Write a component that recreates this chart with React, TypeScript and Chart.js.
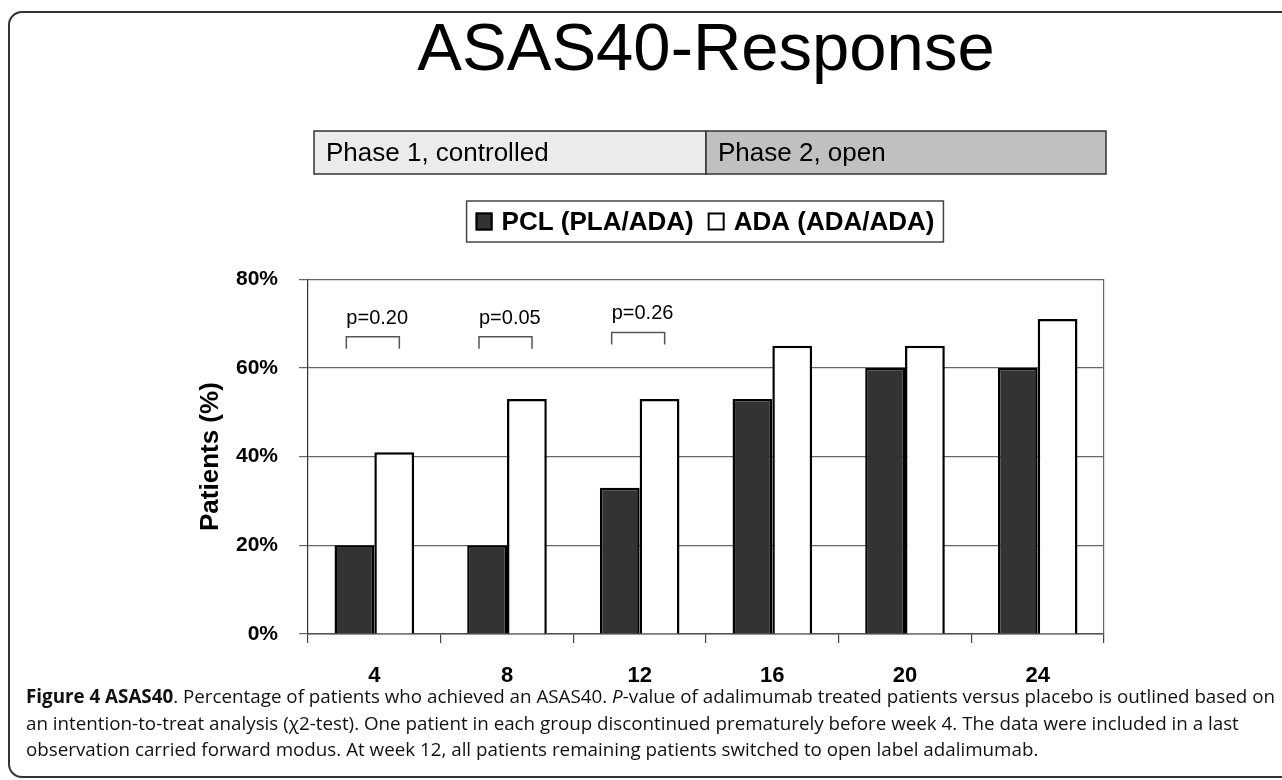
import { useEffect, useRef } from 'react';
import { Chart, registerables } from 'chart.js';

Chart.register(...registerables);

// ---------- data ----------
const weeks = ['4', '8', '12', '16', '20', '24'];
const pclValues = [20, 20, 33, 53, 60, 60];
const adaValues = [41, 53, 53, 65, 65, 71];
const yTickValues = [0, 20, 40, 60, 80];
const seriesNames = ['PCL (PLA/ADA)', 'ADA (ADA/ADA)'];
const pLabels = ['p=0.20', 'p=0.05', 'p=0.26'];
const pBracketLevel = [67, 67, 68];
const phaseLabels = ['Phase 1, controlled', 'Phase 2, open'];
const phaseLastIndex = [2, 5];
const titleText = 'ASAS40-Response';
const yAxisTitle = 'Patients (%)';

const FONT = "'Liberation Sans', Arial, Helvetica, sans-serif";
const phaseFills = ['#ebebeb', '#c0c0c0'];

const annotationPlugin = {
  id: 'asasAnnotations',
  afterDraw(chart: any) {
    const { ctx, chartArea, scales } = chart;
    const x = scales.x;
    const y = scales.y;
    ctx.save();

    // phase boxes
    const boxTop = 131;
    const boxH = 43;
    const edges: number[] = [chartArea.left + 6];
    phaseLastIndex.forEach((last) => {
      if (last >= weeks.length - 1) edges.push(chartArea.right + 2);
      else edges.push((x.getPixelForValue(last) + x.getPixelForValue(last + 1)) / 2);
    });
    ctx.font = `normal 26px ${FONT}`;
    ctx.textBaseline = 'middle';
    ctx.textAlign = 'left';
    phaseLabels.forEach((lab, i) => {
      const l = edges[i];
      const r = edges[i + 1];
      ctx.fillStyle = phaseFills[i];
      ctx.fillRect(l, boxTop, r - l, boxH);
      ctx.lineWidth = 1.5;
      ctx.strokeStyle = '#333';
      ctx.strokeRect(l, boxTop, r - l, boxH);
      ctx.fillStyle = '#000';
      ctx.fillText(lab, l + 12, boxTop + boxH / 2 + 1);
    });

    // legend
    const ds = chart.data.datasets;
    ctx.font = `bold 26px ${FONT}`;
    const widths = ds.map((d: any) => ctx.measureText(d.label).width);
    const pad = 9, sw = 17, sh = 18, gap = 9, itemGap = 14;
    let total = pad * 2;
    widths.forEach((w: number, i: number) => {
      total += sw + gap + w + (i < widths.length - 1 ? itemGap : 0);
    });
    const legTop = 201, legH = 41;
    const cx = (chartArea.left + chartArea.right) / 2 - 1;
    const legLeft = cx - total / 2;
    ctx.fillStyle = '#fff';
    ctx.fillRect(legLeft, legTop, total, legH);
    ctx.lineWidth = 1.5;
    ctx.strokeStyle = '#444';
    ctx.strokeRect(legLeft, legTop, total, legH);
    let px = legLeft + pad;
    const midY = legTop + legH / 2;
    ds.forEach((d: any, i: number) => {
      ctx.fillStyle = d.backgroundColor;
      ctx.fillRect(px, midY - sh / 2, sw, sh);
      ctx.lineWidth = 2;
      ctx.strokeStyle = '#000';
      ctx.strokeRect(px + 1, midY - sh / 2 + 1, sw - 2, sh - 2);
      px += sw + gap;
      ctx.fillStyle = '#000';
      ctx.textBaseline = 'middle';
      ctx.fillText(d.label, px, midY + 1);
      px += widths[i] + itemGap;
    });

    // p-value brackets
    ctx.font = `normal 20px ${FONT}`;
    ctx.textBaseline = 'alphabetic';
    ctx.textAlign = 'left';
    pLabels.forEach((lab, i) => {
      const c = x.getPixelForValue(i);
      const top = y.getPixelForValue(pBracketLevel[i]);
      const l = c - 28;
      const r = c + 25;
      ctx.beginPath();
      ctx.moveTo(l, top + 12);
      ctx.lineTo(l, top);
      ctx.lineTo(r, top);
      ctx.lineTo(r, top + 12);
      ctx.lineWidth = 1.5;
      ctx.strokeStyle = '#555';
      ctx.stroke();
      ctx.fillStyle = '#000';
      ctx.fillText(lab, l, top - 13);
    });

    ctx.restore();
  },
};

function ChartCanvas() {
  const ref = useRef<HTMLCanvasElement | null>(null);
  useEffect(() => {
    if (!ref.current) return;
    const chart = new Chart(ref.current, {
      type: 'bar',
      data: {
        labels: weeks,
        datasets: [
          {
            label: seriesNames[0],
            data: pclValues,
            backgroundColor: '#333333',
            borderColor: '#000000',
            borderWidth: 2.5,
            categoryPercentage: 0.6,
            barPercentage: 1.0,
          },
          {
            label: seriesNames[1],
            data: adaValues,
            backgroundColor: '#ffffff',
            borderColor: '#000000',
            borderWidth: 2.5,
            categoryPercentage: 0.6,
            barPercentage: 1.0,
          },
        ],
      },
      options: {
        responsive: false,
        animation: false,
        devicePixelRatio: 1,
        layout: { padding: { left: 195, right: 178, top: 0, bottom: 86 } },
        plugins: {
          legend: { display: false },
          tooltip: { enabled: false },
          title: {
            display: true,
            text: titleText,
            fullSize: false,
            color: '#000',
            font: { family: FONT, size: 67, weight: 'normal', lineHeight: 1.2 },
            padding: { top: 11.3, bottom: 187.5 },
          },
        },
        scales: {
          x: {
            offset: true,
            grid: {
              offset: true,
              drawOnChartArea: false,
              drawTicks: true,
              tickLength: 9,
              color: '#444',
              lineWidth: 1.2,
            },
            border: { display: true, color: '#555', width: 1.5 },
            ticks: {
              color: '#000',
              padding: 20,
              font: { family: FONT, size: 22, weight: 'bold' },
            },
            afterFit: (s: any) => {
              s.height = 60;
            },
          },
          y: {
            min: 0,
            max: 80,
            afterBuildTicks: (s: any) => {
              s.ticks = yTickValues.map((v) => ({ value: v }));
            },
            grid: {
              color: '#666',
              lineWidth: 1.2,
              drawTicks: true,
              tickLength: 9,
            },
            border: { display: true, color: '#333', width: 1.2 },
            ticks: {
              color: '#000',
              padding: 21,
              font: { family: FONT, size: 21, weight: 'bold' },
              callback: (v: any) => `${v}%`,
            },
            title: {
              display: true,
              text: yAxisTitle,
              color: '#000',
              font: { family: FONT, size: 26, weight: 'bold' },
              padding: { top: 0, bottom: 0 },
            },
            afterFit: (s: any) => {
              s.width = 113;
            },
          },
          y2: {
            position: 'right',
            min: 0,
            max: 80,
            grid: { drawOnChartArea: false, drawTicks: false },
            ticks: { display: false },
            border: { display: true, color: '#666', width: 1.2 },
            afterFit: (s: any) => {
              s.width = 0;
            },
          },
        },
      },
      plugins: [annotationPlugin],
    } as any);
    return () => chart.destroy();
  }, []);
  return (
    <canvas
      ref={ref}
      width={1282}
      height={780}
      style={{ position: 'absolute', left: 0, top: 0, width: 1282, height: 780 }}
    />
  );
}

export default function App() {
  return (
    <div
      style={{
        position: 'fixed',
        left: 0,
        top: 0,
        width: 1282,
        height: 780,
        overflow: 'hidden',
        background: '#fff',
      }}
    >
      <div
        style={{
          position: 'absolute',
          left: 8,
          top: 11,
          width: 1320,
          height: 767,
          border: '2px solid #333',
          borderRadius: 14,
          boxSizing: 'border-box',
        }}
      />
      <ChartCanvas />
      <div
        style={{
          position: 'absolute',
          left: 26,
          top: 683,
          fontFamily: "'Open Sans', 'Noto Sans', sans-serif",
          fontSize: 18.8,
          lineHeight: '26.5px',
          color: '#111',
          whiteSpace: 'nowrap',
        }}
      >
        <div>
          <b>Figure 4 ASAS40</b>. Percentage of patients who achieved an ASAS40. <i>P</i>-value of adalimumab treated
          patients versus placebo is outlined based on
        </div>
        <div>
          an intention-to-treat analysis (χ2-test). One patient in each group discontinued prematurely before week 4. The
          data were included in a last
        </div>
        <div>observation carried forward modus. At week 12, all patients remaining patients switched to open label adalimumab.</div>
      </div>
    </div>
  );
}
